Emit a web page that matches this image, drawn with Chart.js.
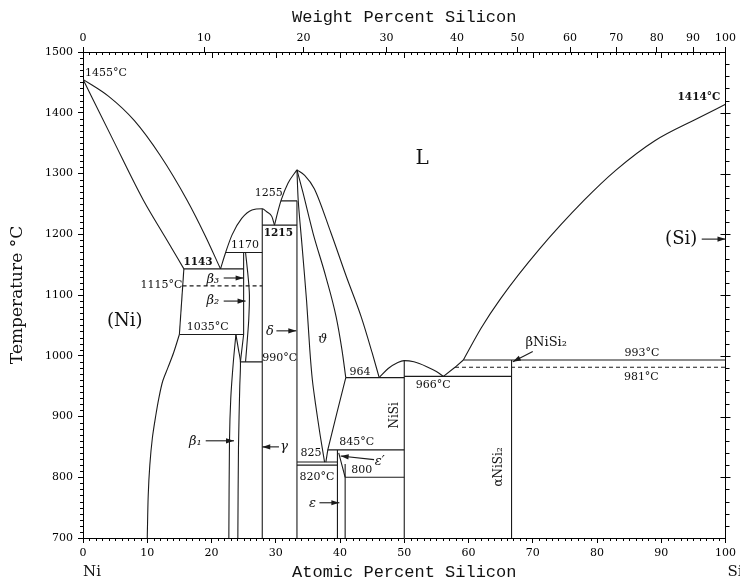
<!DOCTYPE html>
<html>
<head>
<meta charset="utf-8">
<script src="https://cdn.jsdelivr.net/npm/chart.js@4/dist/chart.umd.min.js"></script>
<style>
  html, body { margin: 0; padding: 0; background: #fff; }
  #wrap { width: 740px; height: 582px; }
</style>
</head>
<body>
<div id="wrap"><canvas id="c" width="740" height="582"></canvas></div>
<script>
// ---- Ni–Si binary phase diagram --------------------------------------
// All boundaries as [atomic % Si, temperature °C]

const atomicTicks = [0, 10, 20, 30, 40, 50, 60, 70, 80, 90, 100];
const tempTicks = [700, 800, 900, 1000, 1100, 1200, 1300, 1400, 1500];
const weightTickLabels = [0, 10, 20, 30, 40, 50, 60, 70, 80, 90, 100];

const liquidusNi      = [[0,1455],[4,1427],[8,1387],[12,1330],[16.2,1256],[19,1198],[21.4,1143]];
const solidusNi       = [[0,1455],[4.6,1357],[9.4,1256],[12.8,1195],[15.7,1143]];
const solvusNiUpper   = [[15.7,1143],[15.0,1035]];
const solvusNiLower   = [[15.0,1035],[14.1,1005],[13.2,980],[12.4,958],[11.8,930],[11.3,900],[10.8,865],[10.4,820],[10.15,770],[10.0,700]];
const liquidusGamma   = [[21.4,1143],[22.2,1170],[23.2,1199],[24.7,1226],[26.3,1240],[27.9,1242],[28.6,1237],[29.4,1229],[29.8,1215]];
const liquidusThetaL  = [[29.8,1215],[30.4,1240],[30.8,1255],[31.9,1284],[33.3,1306]];
const liquidusThetaR  = [[33.3,1306],[34.5,1297],[36,1275],[38.6,1202],[41,1130],[43.3,1064],[45,1005],[46.1,964]];
const liquidusNiSi    = [[46.1,964],[47.5,979],[49,989],[50,992],[51.5,990],[53.5,982],[55,974],[56.1,966]];
const liquidusNiSi2   = [[56.1,966],[57.9,981],[59.2,993]];
const liquidusSi      = [[59.2,993],[62,1046],[65,1094],[71,1175],[78,1256],[83,1306],[89,1354],[95.7,1391],[100,1414]];
const thetaLeft       = [[33.3,1306],[33.5,1255],[34.1,1180],[34.8,1090],[35.3,1010],[35.7,960],[36.2,920],[36.9,870],[37.6,825]];
const thetaRight      = [[33.3,1306],[34.2,1270],[35.8,1202],[37.8,1130],[39.4,1064],[40.3,1010],[40.9,964]];
const thetaRightLow   = [[40.9,964],[39.5,905],[38.1,845],[37.8,825]];
const beta1Left       = [[23.8,1035],[23.4,990],[23.0,930],[22.8,860],[22.7,700]];
const beta1Right      = [[23.8,1035],[24.2,1010],[24.5,990],[24.4,950],[24.2,850],[24.1,700]];
const beta2Left       = [[25.0,1170],[25.0,1035],[24.5,990]];
const beta2Right      = [[25.3,1170],[25.7,1130],[25.9,1100],[25.8,1060],[25.6,1030],[25.3,990]];
const epsPrime        = [[39.8,840],[40.3,820],[40.8,800]];

// line compounds: [atomic % Si, upper °C, lower °C]
const compounds = [[27.9,1242,700],[33.3,1255,700],[39.6,845,700],[40.8,822,700],[50,992,700],[66.7,993,700]];

// invariant reactions: [°C, from %, to %]
const isotherms = [[1255,30.8,33.3],[1215,27.9,33.3],[1170,22.2,27.9],[1143,15.7,25.0],[1035,15.0,25.0],
                   [990,24.5,27.9],[964,40.9,50],[966,50,66.7],[993,59.2,100],[845,38.1,50],
                   [825,33.3,39.6],[820,33.3,39.6],[800,40.8,50]];
const transitions = [[1115,15.5,27.9],[981,57.9,100]];

// phase labels and pointers
const phaseLabels = [
  {x:0.3,  y:1465, t:'1455°C', align:'left'},
  {x:99.2, y:1425, t:'1414°C', align:'right', bold:true, size:10.5},
  {x:52.8, y:1325, t:'L', size:20},
  {x:93.1, y:1192, t:'(Si)', size:18},
  {x:6.5,  y:1056, t:'(Ni)', size:18},
  {x:17.9, y:1154, t:'1143', bold:true, size:10.5},
  {x:12.2, y:1117, t:'1115°C'},
  {x:20.2, y:1125, t:'β₃', italic:true, size:13},
  {x:20.2, y:1090, t:'β₂', italic:true, size:13},
  {x:19.4, y:1047, t:'1035°C'},
  {x:25.2, y:1182, t:'1170'},
  {x:28.9, y:1268, t:'1255'},
  {x:30.4, y:1202, t:'1215', bold:true, size:10.5},
  {x:29.1, y:1040, t:'δ', italic:true, size:13},
  {x:37.3, y:1026, t:'ϑ', italic:true, size:13},
  {x:30.6, y:996,  t:'990°C'},
  {x:43.1, y:973,  t:'964'},
  {x:54.5, y:952,  t:'966°C'},
  {x:48.5, y:902,  t:'NiSi', rot:true, size:12},
  {x:64.7, y:817,  t:'αNiSi₂', rot:true, size:12},
  {x:72.1, y:1021, t:'βNiSi₂', size:13},
  {x:87.0, y:1005, t:'993°C'},
  {x:86.9, y:965,  t:'981°C'},
  {x:17.5, y:858,  t:'β₁', italic:true, size:13},
  {x:31.3, y:850,  t:'γ', italic:true, size:13},
  {x:35.5, y:840,  t:'825'},
  {x:42.6, y:858,  t:'845°C'},
  {x:46.2, y:826,  t:'ε′', italic:true, size:13},
  {x:43.4, y:812,  t:'800'},
  {x:36.4, y:800,  t:'820°C'},
  {x:35.7, y:756,  t:'ε', italic:true, size:13}
];
const pointers = [
  [[96.3,1192],[100,1192]],
  [[21.9,1128],[25.0,1128]],
  [[21.9,1090],[25.3,1090]],
  [[30.1,1041],[33.2,1041]],
  [[70.0,1007],[66.9,990]],
  [[19.1,860],[23.5,860]],
  [[30.5,850],[27.9,850]],
  [[45.3,829],[40.1,835]],
  [[36.8,758],[39.9,758]]
];

// atomic % Si for a given weight % Si
const M_SI = 28.086, M_NI = 58.693;
function wtToAt(w) {
  if (w <= 0) return 0;
  if (w >= 100) return 100;
  const s = w / M_SI, n = (100 - w) / M_NI;
  return 100 * s / (s + n);
}

const INK = '#1b1b1b';
const lineSets = [];
// mode: 'mono' = monotone cubic, 'bez' = bezier, otherwise straight segments
function addCurve(pts, mode, dash) {
  lineSets.push({
    data: pts.map(([x, y]) => ({x, y})),
    showLine: true, pointRadius: 0, borderColor: INK, borderWidth: 1.1,
    cubicInterpolationMode: mode === 'mono' ? 'monotone' : 'default',
    tension: mode === 'bez' ? 0.3 : (mode === 'mono' ? 0.4 : 0),
    fill: false, borderDash: dash || []
  });
}
[liquidusNi, solidusNi, liquidusGamma, liquidusThetaL, liquidusThetaR, liquidusNiSi, liquidusSi, thetaRight]
  .forEach(p => addCurve(p, 'mono'));
[solvusNiLower, thetaLeft, beta1Left, beta1Right, beta2Right].forEach(p => addCurve(p, 'bez'));
[solvusNiUpper, liquidusNiSi2, thetaRightLow, beta2Left, epsPrime].forEach(p => addCurve(p, 'line'));
compounds.forEach(([x, top, bot]) => addCurve([[x, top], [x, bot]], 'line'));
isotherms.forEach(([t, a, b]) => addCurve([[a, t], [b, t]], 'line'));
transitions.forEach(([t, a, b]) => addCurve([[a, t], [b, t]], 'line', [4, 3]));

const serif = 'DejaVu Serif';
const tickFont = {family: serif, size: 11};

const decor = {
  id: 'decor',
  afterDraw(chart) {
    const {ctx, chartArea: a} = chart;
    const xs = chart.scales.x, ys = chart.scales.y;
    ctx.save();
    ctx.strokeStyle = '#000';
    ctx.lineWidth = 1;
    ctx.beginPath();
    // bottom minor ticks (outward)
    for (let v = 1; v < 100; v++) {
      if (v % 10 === 0) continue;
      const px = Math.round(xs.getPixelForValue(v)) + 0.5;
      ctx.moveTo(px, a.bottom); ctx.lineTo(px, a.bottom + 3);
    }
    // top edge atomic ticks (inward)
    for (let v = 1; v < 100; v++) {
      const px = Math.round(xs.getPixelForValue(v)) + 0.5;
      ctx.moveTo(px, a.top); ctx.lineTo(px, a.top + (v % 10 === 0 ? 6 : 3));
    }
    // left minor ticks (outward)
    for (let t = 710; t < 1500; t += 10) {
      if (t % 100 === 0) continue;
      const py = Math.round(ys.getPixelForValue(t)) + 0.5;
      ctx.moveTo(a.left, py); ctx.lineTo(a.left - 3, py);
    }
    // right edge ticks
    for (let t = 720; t < 1500; t += 20) {
      const py = Math.round(ys.getPixelForValue(t)) + 0.5;
      if (t % 100 === 0) { ctx.moveTo(a.right - 5, py); ctx.lineTo(a.right + 5, py); }
      else { ctx.moveTo(a.right, py); ctx.lineTo(a.right + 4, py); }
    }
    ctx.stroke();

    // pointers
    ctx.strokeStyle = INK; ctx.fillStyle = INK; ctx.lineWidth = 1.1;
    pointers.forEach(([f, t]) => {
      const x0 = xs.getPixelForValue(f[0]), y0 = ys.getPixelForValue(f[1]);
      const x1 = xs.getPixelForValue(t[0]), y1 = ys.getPixelForValue(t[1]);
      const ang = Math.atan2(y1 - y0, x1 - x0);
      ctx.beginPath(); ctx.moveTo(x0, y0); ctx.lineTo(x1, y1); ctx.stroke();
      ctx.beginPath();
      ctx.moveTo(x1, y1);
      ctx.lineTo(x1 - 8 * Math.cos(ang) + 2.6 * Math.sin(ang), y1 - 8 * Math.sin(ang) - 2.6 * Math.cos(ang));
      ctx.lineTo(x1 - 8 * Math.cos(ang) - 2.6 * Math.sin(ang), y1 - 8 * Math.sin(ang) + 2.6 * Math.cos(ang));
      ctx.closePath(); ctx.fill();
    });

    // phase labels
    ctx.fillStyle = '#111';
    ctx.textBaseline = 'middle';
    phaseLabels.forEach(l => {
      const size = l.size || 11;
      ctx.font = (l.italic ? 'italic ' : '') + (l.bold ? 'bold ' : '') + size + 'px "' + serif + '"';
      const px = xs.getPixelForValue(l.x), py = ys.getPixelForValue(l.y);
      ctx.textAlign = l.align || 'center';
      if (l.rot) {
        ctx.save(); ctx.translate(px, py); ctx.rotate(-Math.PI / 2);
        ctx.textAlign = 'center'; ctx.fillText(l.t, 0, 0); ctx.restore();
      } else {
        ctx.fillText(l.t, px, py);
      }
    });

    // axis titles
    const cx = xs.getPixelForValue(50);
    ctx.textAlign = 'center';
    ctx.font = '17px "Liberation Mono"';
    ctx.fillText('Weight Percent Silicon', cx, 17);
    ctx.fillText('Atomic Percent Silicon', cx, 572);
    ctx.font = '15px "' + serif + '"';
    ctx.textAlign = 'left';
    ctx.fillText('Ni', a.left, 572);
    ctx.fillText('Si', a.right + 2, 572);
    ctx.save();
    ctx.translate(18, (a.top + a.bottom) / 2);
    ctx.rotate(-Math.PI / 2);
    ctx.textAlign = 'center';
    ctx.font = '17px "' + serif + '"';
    ctx.fillText('Temperature °C', 0, 0);
    ctx.restore();
    ctx.restore();
  }
};

new Chart(document.getElementById('c'), {
  type: 'scatter',
  data: {datasets: lineSets},
  options: {
    responsive: false, animation: false, devicePixelRatio: 1, events: [],
    layout: {padding: 0},
    plugins: {legend: {display: false}, tooltip: {enabled: false}},
    scales: {
      x: {
        type: 'linear', position: 'bottom', min: 0, max: 100,
        afterBuildTicks(s) { s.ticks = atomicTicks.map(v => ({value: v})); },
        ticks: {autoSkip: false, maxRotation: 0, font: tickFont, color: '#000', padding: 4,
                callback: v => String(v)},
        grid: {drawOnChartArea: false, tickLength: 5, color: '#000'},
        border: {color: '#000', width: 1},
        afterFit(s) { s.height = 44; }
      },
      x2: {
        type: 'linear', position: 'top', min: 0, max: 100,
        afterBuildTicks(s) { s.ticks = weightTickLabels.map(w => ({value: wtToAt(w)})); },
        ticks: {autoSkip: false, maxRotation: 0, font: tickFont, color: '#000', padding: 2,
                callback: (v, i) => String(weightTickLabels[i])},
        grid: {drawOnChartArea: false, tickLength: 5, color: '#000'},
        border: {color: '#000', width: 1},
        afterFit(s) { s.height = 52; }
      },
      y: {
        type: 'linear', position: 'left', min: 700, max: 1500,
        afterBuildTicks(s) { s.ticks = tempTicks.map(v => ({value: v})); },
        ticks: {font: tickFont, color: '#000', padding: 5, callback: v => String(v)},
        grid: {drawOnChartArea: false, tickLength: 5, color: '#000'},
        border: {color: '#000', width: 1},
        afterFit(s) { s.width = 83; }
      },
      y2: {
        type: 'linear', position: 'right', min: 700, max: 1500,
        ticks: {display: false},
        grid: {drawOnChartArea: false, drawTicks: false},
        border: {color: '#000', width: 1},
        afterFit(s) { s.width = 9; }
      }
    }
  },
  plugins: [decor]
});
</script>
</body>
</html>
